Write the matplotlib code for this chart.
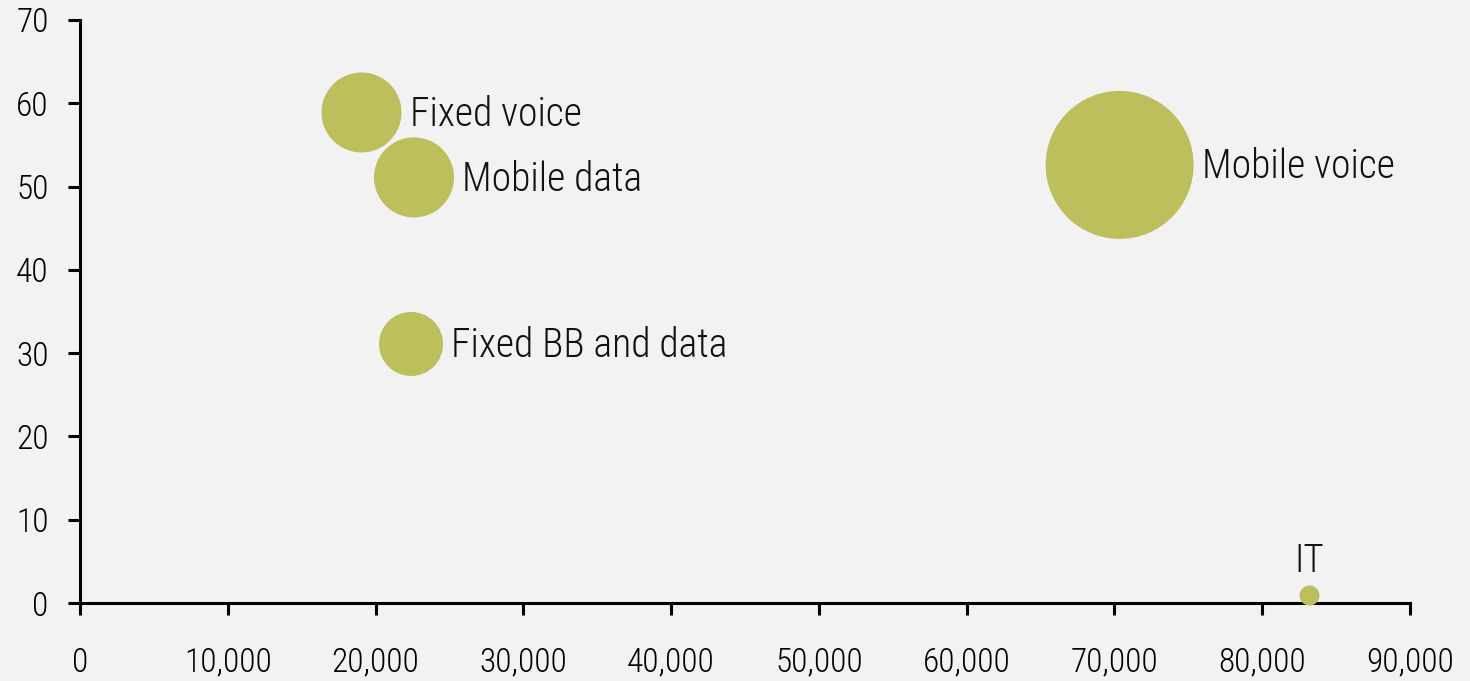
import numpy as np
import matplotlib.pyplot as plt
from matplotlib import font_manager

# bubble chart data
labels = ['Fixed voice', 'Mobile data', 'Fixed BB and data', 'Mobile voice', 'IT']
x_vals = [19050, 22600, 22400, 70350, 83200]
y_vals = [58.9, 51.1, 31.1, 52.6, 0.9]
sizes = [6400, 6400, 4100, 21900, 400]   # relative bubble area

bubble_color = '#bdbe5c'
bg = '#f2f2f2'

# pick a narrow font if one is there
fonts = [(f.name, f.stretch) for f in font_manager.fontManager.ttflist]
names = set(n for n, _ in fonts)
family = 'DejaVu Sans'
stretch = 'normal'
for cand in ['Liberation Sans Narrow', 'Roboto Condensed', 'Open Sans Condensed']:
    if cand in names:
        family = cand
        break
else:
    if ('DejaVu Sans', 'condensed') in fonts or ('DejaVu Sans', 'semi-condensed') in fonts:
        stretch = 'condensed'
plt.rcParams['font.family'] = [family, 'DejaVu Sans']
plt.rcParams['font.stretch'] = stretch
plt.rcParams['font.weight'] = 'light'

fig = plt.figure(figsize=(14.7, 6.81), dpi=100, facecolor=bg)
ax = fig.add_axes([80/1470, 1 - 603/681, 1330/1470, 583/681])
ax.set_facecolor(bg)

# area in px^2 -> pt^2
s = np.array(sizes) * 0.72**2
ax.scatter(x_vals, y_vals, s=s, color=bubble_color, edgecolors='none', zorder=3, clip_on=False)

for lab, xv, yv, sz in zip(labels, x_vals, y_vals, sizes):
    r_pt = np.sqrt(sz) * 0.72 / 2
    if lab == 'IT':
        ax.annotate(lab, (xv, yv), xytext=(0, r_pt + 4), textcoords='offset points',
                    ha='center', va='bottom', fontsize=28, color='#111111')
    else:
        ax.annotate(lab, (xv, yv), xytext=(r_pt + 6, -1.5), textcoords='offset points',
                    ha='left', va='center', fontsize=28.5, color='#111111')

ax.set_xlim(0, 90000)
ax.set_ylim(0, 70)
ax.set_xticks(np.arange(0, 90001, 10000))
ax.set_yticks(np.arange(0, 71, 10))
ax.set_xticklabels([f'{v:,}' for v in range(0, 90001, 10000)])

for side in ['top', 'right']:
    ax.spines[side].set_visible(False)
for side in ['left', 'bottom']:
    ax.spines[side].set_linewidth(2.2)
    ax.spines[side].set_color('black')

ax.tick_params(axis='both', direction='out', length=8.6, width=2.2, labelsize=24, colors='black')
ax.tick_params(axis='x', pad=23)
ax.tick_params(axis='y', pad=14)

fig.savefig('out.png', dpi=100, facecolor=bg)
